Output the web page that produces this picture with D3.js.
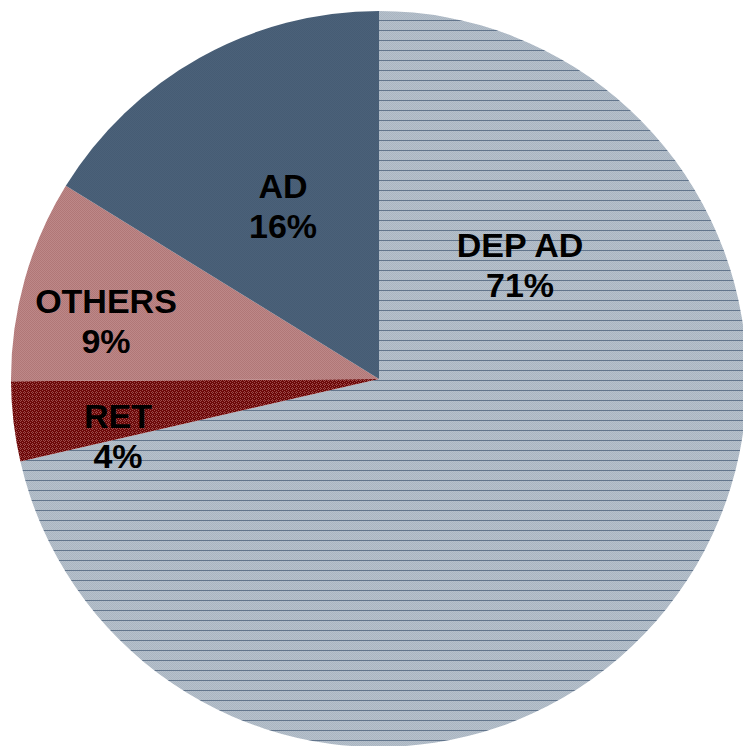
<!DOCTYPE html>
<html><head><meta charset="utf-8">
<script src="https://cdn.jsdelivr.net/npm/d3@7"></script>
<style>html,body{margin:0;padding:0;background:#fff;overflow:hidden}</style>
</head><body>
<svg id="c" width="743" height="746"></svg>
<script>
const categories = ["DEP AD", "RET", "OTHERS", "AD"];
const values = [71.4, 3.5, 8.9, 16.2];
const labels = ["71%", "4%", "9%", "16%"];

const svg = d3.select("#c");
const defs = svg.append("defs");
const cx = 379, cy = 379, R = 368;

function checker(id, c1, c2) {
  const p = defs.append("pattern").attr("id", id).attr("patternUnits", "userSpaceOnUse")
    .attr("width", 2).attr("height", 2);
  p.append("rect").attr("width", 2).attr("height", 2).attr("fill", c1);
  p.append("rect").attr("width", 1).attr("height", 1).attr("fill", c2);
  p.append("rect").attr("x", 1).attr("y", 1).attr("width", 1).attr("height", 1).attr("fill", c2);
  return p;
}
const pd = defs.append("pattern").attr("id", "pDep").attr("patternUnits", "userSpaceOnUse")
  .attr("width", 10).attr("height", 10).attr("y", 1);
pd.append("rect").attr("width", 10).attr("height", 10).attr("fill", "#a9b5c1");
for (let i = 0; i < 10; i++) for (let j = 0; j < 10; j++) if ((i + j) % 2 === 0)
  pd.append("rect").attr("x", i).attr("y", j).attr("width", 1).attr("height", 1).attr("fill", "#b6c0cb");
pd.append("rect").attr("x", 0).attr("y", 0).attr("width", 10).attr("height", 1).attr("fill", "#62758c");

const pr = defs.append("pattern").attr("id", "pRet").attr("patternUnits", "userSpaceOnUse")
  .attr("width", 4).attr("height", 4);
pr.append("rect").attr("width", 4).attr("height", 4).attr("fill", "#6c0808");
[[1,0],[0,1],[2,1],[1,2],[3,3]].forEach(([x,y]) =>
  pr.append("rect").attr("x", x).attr("y", y).attr("width", 1).attr("height", 1).attr("fill", "#9c4c4c"));

checker("pOth", "#bd8888", "#b07777");
checker("pAd", "#4b6179", "#465c74");

const fills = ["url(#pDep)", "url(#pRet)", "url(#pOth)", "url(#pAd)"];

const pie = d3.pie().sort(null).value(d => d)(values);
const arc = d3.arc().innerRadius(0).outerRadius(R);
const g = svg.append("g").attr("transform", `translate(${cx},${cy})`);
g.selectAll("path").data(pie).join("path").attr("d", arc).attr("fill", (d, i) => fills[i]);

const labelOffsets = [[141, -122], [-261, 49], [-273, -66], [-96, -181]];
const tg = g.selectAll("text.l").data(pie).join("text")
  .attr("class", "l")
  .attr("text-anchor", "middle")
  .attr("font-family", "'Liberation Sans', Arial, sans-serif")
  .attr("font-weight", "bold")
  .attr("font-size", 34)
  .attr("fill", "#000")
  .attr("transform", (d, i) => `translate(${labelOffsets[i][0]},${labelOffsets[i][1]})`);
tg.append("tspan").attr("x", 0).attr("y", 0).text((d, i) => categories[i]);
tg.append("tspan").attr("x", 0).attr("y", 40).text((d, i) => labels[i]);
</script>
</body></html>
